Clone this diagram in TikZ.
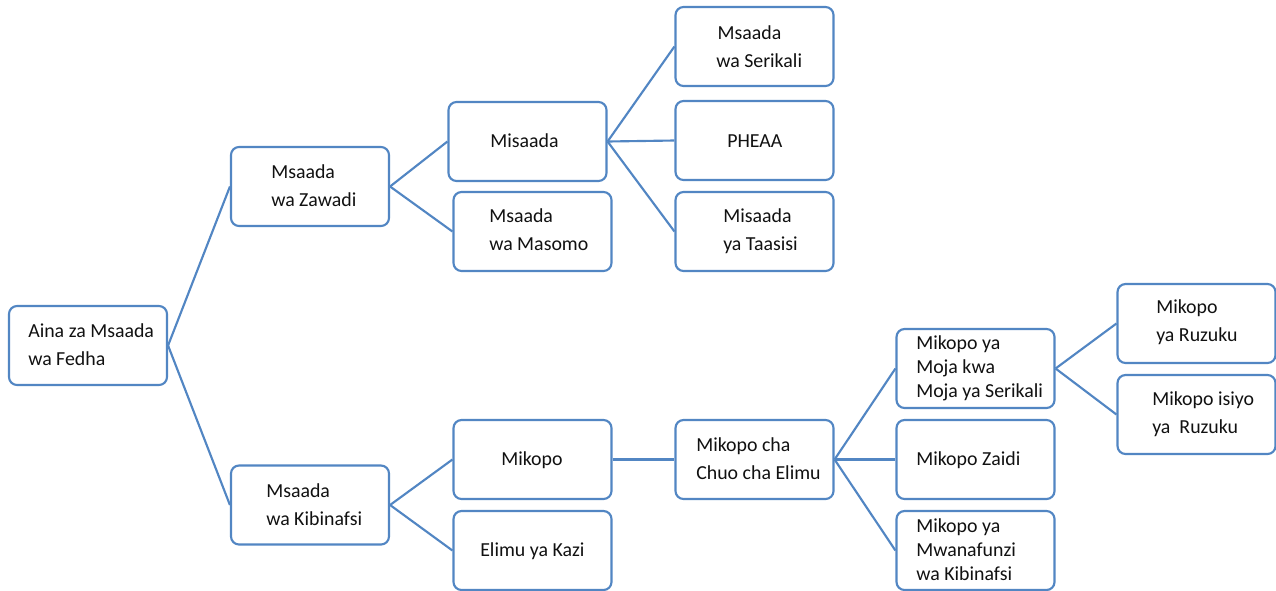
\documentclass[tikz,border=0pt]{standalone}
\usepackage{fontspec}
\setmainfont{Carlito}
\definecolor{boxblue}{HTML}{5286C3}
\definecolor{txt}{HTML}{111111}
\begin{document}
\begin{tikzpicture}[x=0.75pt,y=-0.75pt,
  box/.style={draw=boxblue,line width=1.6pt,rounded corners=6pt,fill=white,
    minimum width=118.5pt,minimum height=59.25pt,inner sep=0pt},
  lbl/.style={anchor=west,inner sep=0pt,align=left,text=txt,font=\fontsize{14.9}{21}\selectfont},
  lblt/.style={lbl,font=\fontsize{14.9}{18}\selectfont},
  link/.style={draw=boxblue,line width=1.6pt}]
\useasboundingbox (0,0) rectangle (1276,590);
% boxes
\node[box] (a) at (88,345.5) {};
\node[box] (z) at (310,186.5) {};
\node[box] (k) at (310,505) {};
\node[box] (m) at (527.5,141.5) {};
\node[box] (ms) at (532.5,231.5) {};
\node[box] (s) at (754.5,46.5) {};
\node[box] (p) at (754.5,140.5) {};
\node[box] (t) at (754.5,231.5) {};
\node[box] (mk) at (532.5,459.5) {};
\node[box] (ek) at (532.5,550.5) {};
\node[box] (c) at (754.5,459.5) {};
\node[box] (j) at (975.5,368.5) {};
\node[box] (zd) at (975.5,459.5) {};
\node[box] (mw) at (975.5,550.5) {};
\node[box] (r) at (1196.5,323.5) {};
\node[box] (nr) at (1196.5,414.5) {};
% connectors
\begin{scope}[on background layer/.style={}]
\draw[link] (a.east) -- (z.west);
\draw[link] (a.east) -- (k.west);
\draw[link] (z.east) -- (m.west);
\draw[link] (z.east) -- (ms.west);
\draw[link] (m.east) -- (s.west);
\draw[link] (m.east) -- (p.west);
\draw[link] (m.east) -- (t.west);
\draw[link] (k.east) -- (mk.west);
\draw[link] (k.east) -- (ek.west);
\draw[link] (mk.east) -- (c.west);
\draw[link] (c.east) -- (j.west);
\draw[link] (c.east) -- (zd.west);
\draw[link] (c.east) -- (mw.west);
\draw[link] (j.east) -- (r.west);
\draw[link] (j.east) -- (nr.west);
\end{scope}
% labels
\node[lbl] (ta) at (28,345) {Aina za Msaada\\wa Fedha};
\node[lbl] (tz) at (271,186) {Msaada\\wa Zawadi};
\node[lbl] (tk) at (266,505) {Msaada\\wa Kibinafsi};
\node[lbl] (tm) at (490,141) {Misaada};
\node[lbl] (tms) at (489,230) {Msaada\\wa Masomo};
\node[lbl] (ts) at (716,47) {\hspace*{1pt}Msaada\\wa Serikali};
\node[lbl] (tp) at (727,141) {PHEAA};
\node[lbl] (tt) at (723,231) {Misaada\\ya Taasisi};
\node[lbl] (tmk) at (501,460) {Mikopo};
\node[lbl] (tek) at (480,551) {Elimu ya Kazi};
\node[lbl] (tc) at (696,459) {Mikopo cha\\Chuo cha Elimu};
\node[lblt] (tj) at (916,368) {Mikopo ya\\Moja kwa\\Moja ya Serikali};
\node[lbl] (tzd) at (916,460) {Mikopo Zaidi};
\node[lblt] (tmw) at (916,550) {Mikopo ya\\Mwanafunzi\\wa Kibinafsi};
\node[lbl] (tr) at (1156,322) {Mikopo\\ya Ruzuku};
\node[lbl] (tnr) at (1152,414) {Mikopo isiyo\\ya\ \ Ruzuku};
\end{tikzpicture}
\end{document}
